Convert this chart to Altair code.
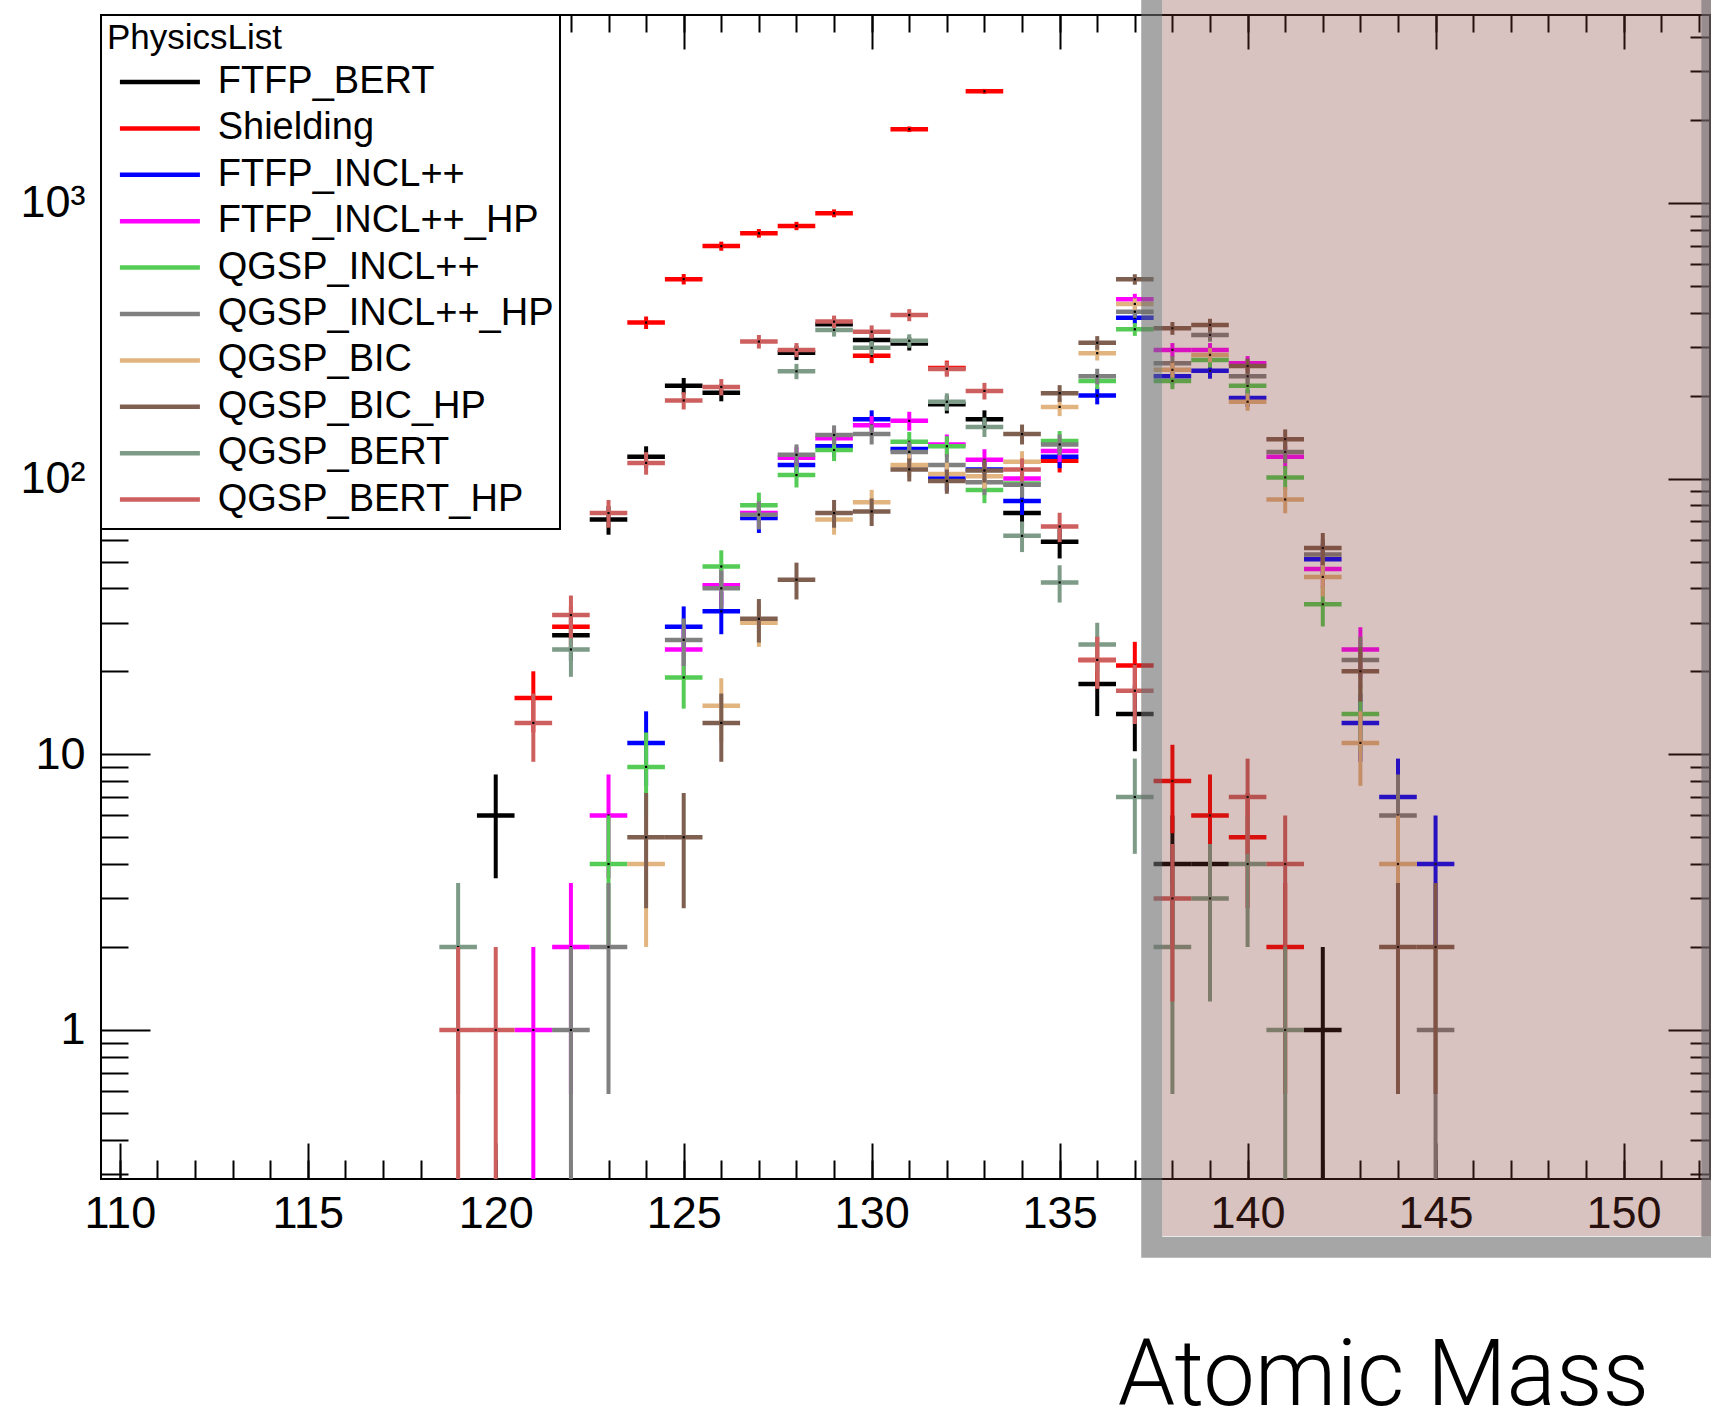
import altair as alt
import pandas as pd

# ---------------------------------------------------------------------------
# Physics lists, drawn in this order (later lists on top)
# ---------------------------------------------------------------------------
series_names = [
    "FTFP_BERT", "Shielding", "FTFP_INCL++", "FTFP_INCL++_HP", "QGSP_INCL++",
    "QGSP_INCL++_HP", "QGSP_BIC", "QGSP_BIC_HP", "QGSP_BERT", "QGSP_BERT_HP",
]
series_colors = [
    "#000000", "#ff0000", "#0000ff", "#ff00ff", "#55cc55",
    "#808080", "#e2b47f", "#7e5f50", "#7d9b87", "#cd5f5f",
]

# Counts per atomic-mass bin
ftfp_bert_mass = [120, 122, 123, 124, 125, 126, 128, 129, 130, 131, 132, 133, 134, 135, 136, 137, 138, 139, 142]
ftfp_bert_count = [6, 27, 71, 120, 217, 205, 286, 363, 318, 309, 186, 164, 75, 59, 18, 14, 4, 4, 1]

shielding_mass = [121, 122, 124, 125, 126, 127, 128, 129, 130, 131, 132, 133, 135, 136, 137, 138, 139, 140, 141]
shielding_count = [16, 29, 368, 529, 697, 776, 825, 917, 279, 1850, 252, 2540, 116, 22, 21, 8, 6, 5, 2]

ftfp_incl_mass = [124, 125, 126, 127, 128, 129, 130, 131, 132, 133, 134, 135, 136, 137, 138, 139, 140, 142, 143, 144, 145]
ftfp_incl_count = [11, 29, 33, 72, 112, 131, 164, 128, 100, 108, 83, 120, 200, 383, 235, 246, 196, 51, 13, 7, 4]

ftfp_incl_hp_mass = [121, 122, 123, 125, 126, 127, 128, 129, 130, 131, 132, 133, 134, 135, 137, 138, 139, 140, 141, 142, 143]
ftfp_incl_hp_count = [1, 2, 6, 24, 41, 75, 119, 140, 156, 162, 133, 117, 100, 126, 447, 293, 293, 262, 120, 47, 24]

qgsp_incl_mass = [123, 124, 125, 126, 127, 128, 129, 131, 132, 133, 134, 135, 136, 137, 138, 139, 140, 141, 142, 143]
qgsp_incl_count = [4, 9, 19, 48, 80, 103, 127, 136, 131, 91, 96, 137, 226, 348, 226, 269, 217, 101, 35, 14]

qgsp_incl_hp_mass = [122, 123, 125, 126, 127, 128, 129, 130, 131, 132, 133, 134, 135, 136, 137, 138, 139, 140, 141, 142, 143, 144, 145]
qgsp_incl_hp_count = [1, 2, 26, 40, 74, 122, 144, 145, 125, 112, 97, 95, 133, 235, 403, 262, 332, 235, 125, 53, 22, 6, 1]

qgsp_bic_mass = [124, 126, 127, 129, 130, 131, 132, 133, 134, 135, 136, 137, 138, 139, 140, 141, 142, 143, 144]
qgsp_bic_count = [4, 15, 30, 71, 82, 112, 104, 102, 115, 182, 285, 430, 248, 281, 190, 84, 44, 11, 4]

qgsp_bic_hp_mass = [124, 125, 126, 127, 128, 129, 130, 131, 132, 133, 134, 135, 136, 137, 138, 139, 140, 141, 142, 143, 144, 145]
qgsp_bic_hp_count = [5, 5, 13, 31, 43, 75, 76, 108, 98, 107, 145, 204, 311, 528, 351, 361, 256, 139, 56, 20, 2, 2]

qgsp_bert_mass = [119, 122, 128, 129, 130, 131, 132, 133, 134, 135, 136, 137, 138, 139, 140, 141]
qgsp_bert_count = [2, 24, 245, 346, 298, 316, 190, 154, 62, 42, 25, 7, 2, 3, 4, 1]

qgsp_bert_hp_mass = [119, 120, 121, 122, 123, 124, 125, 126, 127, 128, 129, 130, 131, 132, 133, 134, 135, 136, 137, 138, 140, 141]
qgsp_bert_hp_count = [1, 1, 13, 32, 75, 114, 192, 215, 314, 293, 371, 341, 392, 250, 208, 108, 67, 22, 17, 3, 7, 4]

series_mass = [
    ftfp_bert_mass, shielding_mass, ftfp_incl_mass, ftfp_incl_hp_mass, qgsp_incl_mass,
    qgsp_incl_hp_mass, qgsp_bic_mass, qgsp_bic_hp_mass, qgsp_bert_mass, qgsp_bert_hp_mass,
]
series_count = [
    ftfp_bert_count, shielding_count, ftfp_incl_count, ftfp_incl_hp_count, qgsp_incl_count,
    qgsp_incl_hp_count, qgsp_bic_count, qgsp_bic_hp_count, qgsp_bert_count, qgsp_bert_hp_count,
]

# Axis ranges and ticks
x_domain = [109.5, 152.3]
y_domain = [0.2881, 4803]
x_major = [110, 115, 120, 125, 130, 135, 140, 145, 150]
x_minor = list(range(110, 153))
y_major = [1, 10, 100, 1000]
y_major_labels = ["1", "10", "10²", "10³"]
y_minor = [m * d for d in (0.1, 1, 10, 100, 1000) for m in range(2, 10)
           if y_domain[0] <= m * d <= y_domain[1]]

# Highlighted mass region (border centre line and inner fill)
shade_border_x = [137.45, 152.35]
shade_border_y = [0.163, 1e5]
shade_fill_x = [137.73, 152.35]
shade_fill_y = [0.179, 1e5]

W, H = 1609, 1164

rows = []
for name, masses, counts in zip(series_names, series_mass, series_count):
    for a, n in zip(masses, counts):
        rows.append({"series": name, "mass": a, "count": n})
df = pd.DataFrame(rows)

xs = alt.Scale(domain=x_domain, nice=False, zero=False)
ys = alt.Scale(type="log", domain=y_domain, nice=False)

legend = alt.Legend(
    title="PhysicsList", orient="none", legendX=0, legendY=0,
    symbolType="stroke", symbolSize=6400, symbolStrokeWidth=4.5, symbolOffset=10.4,
    labelFont="Liberation Sans", labelFontSize=38, labelColor="black", labelOffset=15.3,
    labelLimit=600, clipHeight=46,
    titleFont="Liberation Sans", titleFontSize=35, titleFontWeight="normal",
    titleColor="black", titlePadding=3, titleLimit=600, padding=6, rowPadding=0.4,
    strokeColor="black", fillColor="white",
)
color = alt.Color("series:N", scale=alt.Scale(domain=series_names, range=series_colors),
                  legend=legend)

base = alt.Chart(df).transform_calculate(
    x_lo="datum.mass - 0.5",
    x_hi="datum.mass + 0.5",
    y_lo="max(datum.count - sqrt(datum.count), 0.01)",
    y_hi="datum.count + sqrt(datum.count)",
)

layers = []
for name in series_names:
    s = base.transform_filter(alt.datum.series == name)
    layers.append(s.mark_rule(strokeWidth=4.5, clip=True).encode(
        x=alt.X("x_lo:Q", scale=xs, axis=None), x2="x_hi:Q",
        y=alt.Y("count:Q", scale=ys, axis=None), color=color))
    layers.append(s.mark_rule(strokeWidth=4, clip=True).encode(
        x=alt.X("mass:Q", scale=xs, axis=None),
        y=alt.Y("y_lo:Q", scale=ys, axis=None), y2="y_hi:Q", color=color))
    layers.append(s.mark_square(size=5, color="black", opacity=1, clip=True).encode(
        x=alt.X("mass:Q", scale=xs, axis=None),
        y=alt.Y("count:Q", scale=ys, axis=None)))

# Axes: one label axis pair plus inward-pointing tick axes on all four sides
anchor = alt.Chart(pd.DataFrame({"mass": [130], "count": [10]}))
label_font = "Liberation Sans"
y_label_expr = " : ".join(
    f"datum.value == {v} ? '{t}'" for v, t in zip(y_major, y_major_labels)) + " : ''"


def tick_axis(orient, offset, values, size):
    return alt.Axis(orient=orient, offset=offset, values=values, tickSize=size,
                    tickWidth=2, tickColor="black", labels=False, domain=False,
                    grid=False, title=None)


layers.append(anchor.mark_point(opacity=0).encode(
    x=alt.X("mass:Q", scale=xs, axis=alt.Axis(
        orient="bottom", values=x_major, ticks=False, tickSize=0, domain=False, grid=False,
        labelFont=label_font, labelFontSize=45, labelColor="black", labelPadding=12,
        labelFlush=False, labelOverlap=False, format="d",
        title="Atomic Mass", titleFont="Roboto", titleFontSize=92, titleFontWeight=300,
        titleColor="black", titleX=1282, titleY=225, titleAlign="center",
        titleBaseline="alphabetic")),
    y=alt.Y("count:Q", scale=ys, axis=alt.Axis(
        orient="left", values=y_major, ticks=False, tickSize=0, domain=False, grid=False,
        labelFont=label_font, labelFontSize=45, labelColor="black", labelPadding=16,
        labelOverlap=False, labelExpr=y_label_expr, title=None))))
layers.append(anchor.mark_point(opacity=0).encode(
    x=alt.X("mass:Q", scale=xs, axis=tick_axis("top", -H, x_major, 36)),
    y=alt.Y("count:Q", scale=ys, axis=tick_axis("right", -W, y_major, 49))))
layers.append(anchor.mark_point(opacity=0).encode(
    x=alt.X("mass:Q", scale=xs, axis=tick_axis("top", -H, x_minor, 19)),
    y=alt.Y("count:Q", scale=ys, axis=tick_axis("right", -W, y_minor, 27))))
layers.append(anchor.mark_point(opacity=0).encode(
    x=alt.X("mass:Q", scale=xs, axis=tick_axis("bottom", -H, x_major, 34)),
    y=alt.Y("count:Q", scale=ys, axis=tick_axis("left", -W, y_major, 42))))
layers.append(anchor.mark_point(opacity=0).encode(
    x=alt.X("mass:Q", scale=xs, axis=tick_axis("bottom", -H, x_minor, 17)),
    y=alt.Y("count:Q", scale=ys, axis=tick_axis("left", -W, y_minor, 20))))

# Shaded region with a grey border
fill_df = pd.DataFrame({"x0": [shade_fill_x[0]], "x1": [shade_fill_x[1]],
                        "y0": [shade_fill_y[0]], "y1": [shade_fill_y[1]]})
border_df = pd.DataFrame({"x0": [shade_border_x[0]], "x1": [shade_border_x[1]],
                          "y0": [shade_border_y[0]], "y1": [shade_border_y[1]]})
layers.append(alt.Chart(fill_df).mark_rect(
    fill="#823730", fillOpacity=0.3, strokeWidth=0, clip=False).encode(
    x=alt.X("x0:Q", scale=xs, axis=None), x2="x1:Q",
    y=alt.Y("y0:Q", scale=ys, axis=None), y2="y1:Q"))
layers.append(alt.Chart(border_df).mark_rect(
    fillOpacity=0, stroke="#6a6a6a", strokeOpacity=0.6, strokeWidth=21, clip=False).encode(
    x=alt.X("x0:Q", scale=xs, axis=None), x2="x1:Q",
    y=alt.Y("y0:Q", scale=ys, axis=None), y2="y1:Q"))

chart = alt.layer(*layers).resolve_axis(
    x="independent", y="independent"
).properties(
    width=W, height=H,
    autosize=alt.AutoSizeParams(type="none"),
    padding={"left": 101, "top": 15, "right": 1, "bottom": 246},
    background="white",
).configure_view(
    stroke="black", strokeWidth=2
).configure_legend(
    strokeWidth=2
)

chart.save("out.html", embed_options={"renderer": "svg", "actions": False})
